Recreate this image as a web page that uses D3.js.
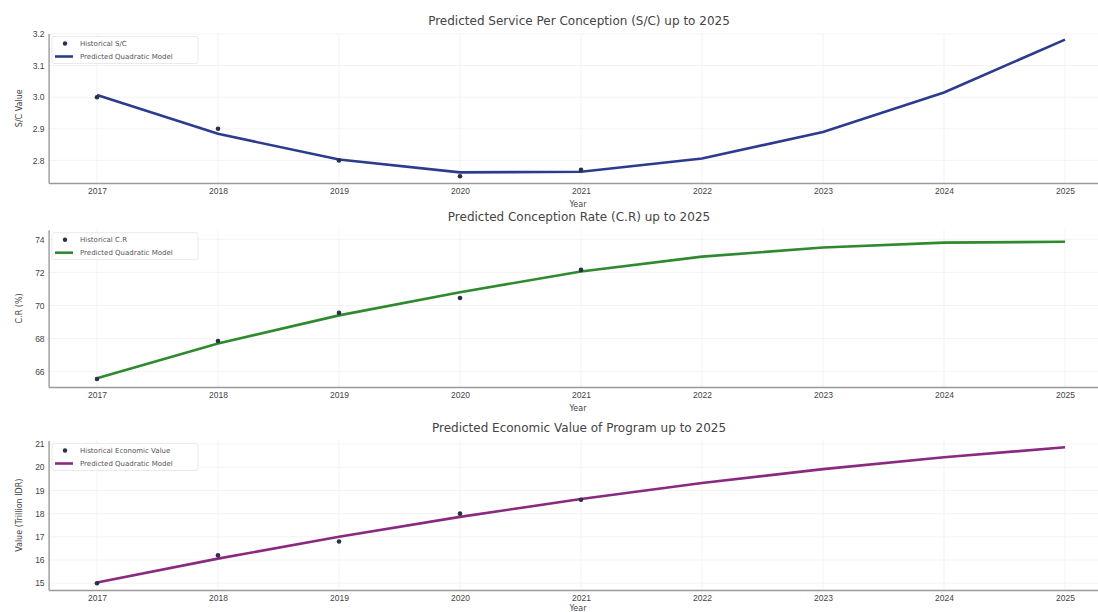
<!DOCTYPE html>
<html>
<head>
<meta charset="utf-8">
<script src="https://cdn.jsdelivr.net/npm/d3@7"></script>
<style>
  body { margin: 0; background: #fff; }
  svg { display: block; font-family: "DejaVu Sans", sans-serif; }
</style>
</head>
<body>
<div id="chart"></div>
<script>
// data
const histYears = [2017, 2018, 2019, 2020, 2021]
const predYears = [2017, 2018, 2019, 2020, 2021, 2022, 2023, 2024, 2025]

const scHist = [3.0, 2.9, 2.8, 2.75, 2.77]
const scPred = [3.007, 2.884, 2.803, 2.762, 2.764, 2.806, 2.890, 3.015, 3.182]

const crHist = [65.55, 67.85, 69.55, 70.45, 72.15]
const crPred = [65.6, 67.7, 69.4, 70.8, 72.05, 72.95, 73.5, 73.8, 73.85]

const evHist = [15.0, 16.2, 16.8, 18.0, 18.6]
const evPred = [15.03, 16.06, 17.0, 17.86, 18.63, 19.32, 19.92, 20.43, 20.86]

const scTicks = [2.8, 2.9, 3.0, 3.1, 3.2]
const crTicks = [66, 68, 70, 72, 74]
const evTicks = [15, 16, 17, 18, 19, 20, 21]

const width = 1098, height = 612

const svg = d3.select('#chart').append('svg')
    .attr('width', width)
    .attr('height', height)

const x = d3.scaleLinear()
    .domain([2016.6, 2025.4])
    .range([48.6, 1113.4])

const panels = [
    {
        title: 'Predicted Service Per Conception (S/C) up to 2025',
        ylabel: 'S/C Value', hist: scHist, pred: scPred, ticks: scTicks,
        fmt: d3.format('.1f'), domain: [2.7285, 3.2015], top: 33.5, bottom: 183,
        color: '#2c3b8e', histLabel: 'Historical S/C', yearGap: 24
    },
    {
        title: 'Predicted Conception Rate (C.R) up to 2025',
        ylabel: 'C.R (%)', hist: crHist, pred: crPred, ticks: crTicks,
        fmt: d3.format('d'), domain: [65.07, 74.58], top: 229.7, bottom: 387,
        color: '#2f8a2f', histLabel: 'Historical C.R', yearGap: 24
    },
    {
        title: 'Predicted Economic Value of Program up to 2025',
        ylabel: 'Value (Trillion IDR)', hist: evHist, pred: evPred, ticks: evTicks,
        fmt: d3.format('d'), domain: [14.707, 21.153], top: 440.5, bottom: 590,
        color: '#8a2a7e', histLabel: 'Historical Economic Value', yearGap: 21
    }
]

panels.forEach(p => {
    const y = d3.scaleLinear().domain(p.domain).range([p.bottom, p.top])
    const g = svg.append('g')

    // faint grid
    g.selectAll('.gy').data(p.ticks).enter().append('line')
        .attr('x1', x.range()[0]).attr('x2', width)
        .attr('y1', d => y(d)).attr('y2', d => y(d))
        .attr('stroke', '#f0f0f0').attr('stroke-width', 0.8)
    g.selectAll('.gx').data(predYears).enter().append('line')
        .attr('x1', d => x(d)).attr('x2', d => x(d))
        .attr('y1', p.top).attr('y2', p.bottom)
        .attr('stroke', '#f0f0f0').attr('stroke-width', 0.8)

    // axes
    const xAxis = g.append('g')
        .attr('transform', `translate(0,${p.bottom})`)
        .call(d3.axisBottom(x).tickValues(predYears).tickFormat(d3.format('d')).tickSize(0).tickPadding(5))
    const yAxis = g.append('g')
        .attr('transform', `translate(${x.range()[0]},0)`)
        .call(d3.axisLeft(y).tickValues(p.ticks).tickFormat(p.fmt).tickSize(0).tickPadding(4))
    ;[xAxis, yAxis].forEach(a => {
        a.select('.domain').attr('stroke', '#9a9a9a').attr('stroke-width', 1.4)
        a.selectAll('text').attr('fill', '#444').style('font-size', '8.5px')
    })

    g.append('text')
        .attr('x', (x.range()[0] + x.range()[1]) / 2 - 2)
        .attr('y', p.top - 9)
        .attr('text-anchor', 'middle')
        .attr('fill', '#444')
        .style('font-size', '12px')
        .text(p.title)

    g.append('text')
        .attr('x', 578)
        .attr('y', p.bottom + p.yearGap)
        .attr('text-anchor', 'middle')
        .attr('fill', '#444')
        .style('font-size', '8px')
        .text('Year')

    g.append('text')
        .attr('transform', `translate(22,${(p.top + p.bottom) / 2}) rotate(-90)`)
        .attr('text-anchor', 'middle')
        .attr('fill', '#444')
        .style('font-size', '8px')
        .text(p.ylabel)

    // prediction line
    const line = d3.line().x((d, i) => x(predYears[i])).y(d => y(d))
    g.append('path')
        .datum(p.pred)
        .attr('d', line)
        .attr('fill', 'none')
        .attr('stroke', p.color)
        .attr('stroke-width', 2.6)

    // historical points
    g.selectAll('.pt').data(p.hist).enter().append('circle')
        .attr('cx', (d, i) => x(histYears[i]))
        .attr('cy', d => y(d))
        .attr('r', 2.3)
        .attr('fill', '#2a2f4a')

    // legend
    const lg = g.append('g').attr('transform', `translate(52,${p.top + 3})`)
    lg.append('rect')
        .attr('width', 146).attr('height', 27).attr('rx', 2)
        .attr('fill', '#fff').attr('fill-opacity', 0.85)
        .attr('stroke', '#e4e4e4').attr('stroke-width', 0.8)
    lg.append('circle').attr('cx', 13).attr('cy', 7).attr('r', 2.2).attr('fill', '#2a2f4a')
    lg.append('line').attr('x1', 3).attr('x2', 21).attr('y1', 20).attr('y2', 20)
        .attr('stroke', p.color).attr('stroke-width', 2.6)
    lg.append('text').attr('x', 28).attr('y', 9.5).attr('fill', '#555')
        .style('font-size', '7px').text(p.histLabel)
    lg.append('text').attr('x', 28).attr('y', 22.5).attr('fill', '#555')
        .style('font-size', '7px').text('Predicted Quadratic Model')
})
</script>
</body>
</html>
